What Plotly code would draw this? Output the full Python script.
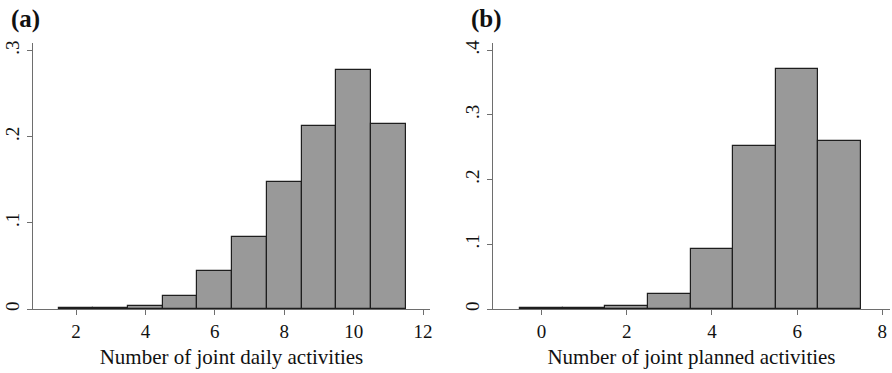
import plotly.graph_objects as go
from plotly.subplots import make_subplots

# Panel (a): Number of joint daily activities
daily_bins = [2, 3, 4, 5, 6, 7, 8, 9, 10, 11]
daily_density = [0.001, 0.001, 0.004, 0.0154, 0.0444, 0.0839, 0.1477, 0.2127, 0.2773, 0.215]
daily_xticks = [2, 4, 6, 8, 10, 12]
daily_yticks = [0, 0.1, 0.2, 0.3]
daily_yticktext = ["0", ".1", ".2", ".3"]

# Panel (b): Number of joint planned activities
planned_bins = [0, 1, 2, 3, 4, 5, 6, 7]
planned_density = [0.001, 0.001, 0.0046, 0.0232, 0.0922, 0.252, 0.3704, 0.259]
planned_xticks = [0, 2, 4, 6, 8]
planned_yticks = [0, 0.1, 0.2, 0.3, 0.4]
planned_yticktext = ["0", ".1", ".2", ".3", ".4"]

W, H = 892, 373
FONT = "Liberation Serif, Times New Roman, serif"
BAR_FILL = "#999999"
BAR_LINE = "#1e1e1e"
AXIS_COL = "#6e6e6e"

fig = make_subplots(rows=1, cols=2)

fig.add_trace(go.Bar(x=daily_bins, y=daily_density, width=1,
                     marker=dict(color=BAR_FILL, line=dict(color=BAR_LINE, width=1.2)),
                     showlegend=False), row=1, col=1)
fig.add_trace(go.Bar(x=planned_bins, y=planned_density, width=1,
                     marker=dict(color=BAR_FILL, line=dict(color=BAR_LINE, width=1.2)),
                     showlegend=False), row=1, col=2)

ydom = [1 - 309 / H, 1 - 43 / H]
common_x = dict(showline=True, linecolor=AXIS_COL, linewidth=1.2, ticks="outside",
                ticklen=5, tickcolor=AXIS_COL, tickwidth=1.2, showgrid=False, zeroline=False,
                automargin=False,
                tickfont=dict(family=FONT, size=19, color="#111"),
                title_font=dict(family=FONT, size=21, color="#111"), title_standoff=8)
common_y = dict(showline=True, linecolor=AXIS_COL, linewidth=1.2, ticks="outside",
                ticklen=5, tickcolor=AXIS_COL, tickwidth=1.2, showgrid=False, zeroline=False,
                automargin=False,
                tickangle=-90, tickfont=dict(family=FONT, size=19, color="#111"))

fig.update_xaxes(common_x, row=1, col=1, domain=[33 / W, 430 / W], range=[0.76, 12.2],
                 tickvals=daily_xticks, title_text="Number of joint daily activities")
fig.update_xaxes(common_x, row=1, col=2, domain=[493 / W, 890 / W], range=[-1.14, 8.18],
                 tickvals=planned_xticks, title_text="Number of joint planned activities")
fig.update_yaxes(common_y, row=1, col=1, domain=ydom, range=[0, 0.3086],
                 tickvals=daily_yticks, ticktext=daily_yticktext)
fig.update_yaxes(common_y, row=1, col=2, domain=ydom, range=[0, 0.411],
                 tickvals=planned_yticks, ticktext=planned_yticktext)

fig.add_annotation(text="<b>(a)</b>", x=9 / W, y=1 - 19 / H, xref="paper", yref="paper",
                   xanchor="left", yanchor="middle", showarrow=False,
                   font=dict(family=FONT, size=25, color="#111"))
fig.add_annotation(text="<b>(b)</b>", x=469 / W, y=1 - 19 / H, xref="paper", yref="paper",
                   xanchor="left", yanchor="middle", showarrow=False,
                   font=dict(family=FONT, size=25, color="#111"))

fig.update_layout(width=W, height=H, margin=dict(l=0, r=0, t=0, b=0),
                  plot_bgcolor="white", paper_bgcolor="white", bargap=0)

fig.write_html("out.html", config={"displayModeBar": False},
               post_script="document.body.style.margin='0';document.body.style.overflow='hidden';")
